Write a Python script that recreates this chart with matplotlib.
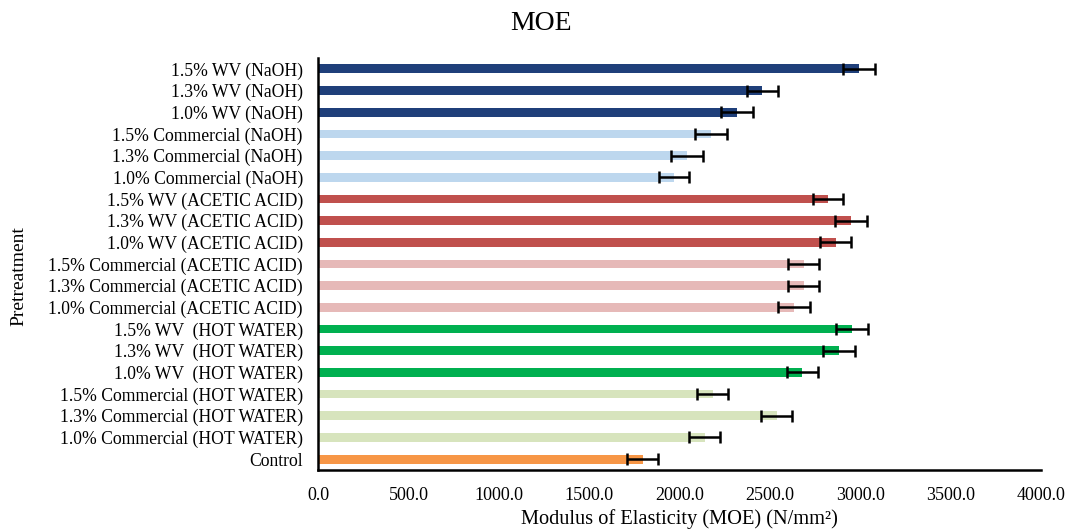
import numpy as np
import matplotlib.pyplot as plt

plt.rcParams["font.family"] = ["Liberation Serif", "DejaVu Serif"]

labels = [
    "1.5% WV (NaOH)",
    "1.3% WV (NaOH)",
    "1.0% WV (NaOH)",
    "1.5% Commercial (NaOH)",
    "1.3% Commercial (NaOH)",
    "1.0% Commercial (NaOH)",
    "1.5% WV (ACETIC ACID)",
    "1.3% WV (ACETIC ACID)",
    "1.0% WV (ACETIC ACID)",
    "1.5% Commercial (ACETIC ACID)",
    "1.3% Commercial (ACETIC ACID)",
    "1.0% Commercial (ACETIC ACID)",
    "1.5% WV  (HOT WATER)",
    "1.3% WV  (HOT WATER)",
    "1.0% WV  (HOT WATER)",
    "1.5% Commercial (HOT WATER)",
    "1.3% Commercial (HOT WATER)",
    "1.0% Commercial (HOT WATER)",
    "Control",
]
moe = [2992, 2457, 2317, 2174, 2041, 1969,
       2822, 2948, 2863, 2686, 2686, 2633,
       2954, 2882, 2679, 2183, 2537, 2140,
       1796]
err = [88, 86, 88, 86, 88, 85,
       85, 88, 87, 85, 87, 88,
       87, 87, 85, 87, 87, 86,
       86]
colors = ["#1F3F7A"] * 3 + ["#BDD7EE"] * 3 + ["#C0504D"] * 3 + ["#E6B9B8"] * 3 \
    + ["#00B050"] * 3 + ["#D7E4BD"] * 3 + ["#F79646"]

fig = plt.figure(figsize=(10.71, 5.32), dpi=100)
ax = fig.add_axes([0.297, 0.1165, 0.675, 0.7745])

y = np.arange(len(labels))
ax.barh(y, moe, height=0.4, color=colors)
ax.errorbar(moe, y, xerr=err, fmt="none", ecolor="black", elinewidth=1.8,
            capsize=4, capthick=1.8)

ax.set_ylim(len(labels) - 0.5, -0.5)
ax.set_xlim(0, 4000)
ax.set_yticks(y)
ax.set_yticklabels(labels, fontsize=12.7)
xt = np.arange(0, 4001, 500)
ax.set_xticks(xt)
ax.set_xticklabels([f"{v:.1f}" for v in xt], fontsize=13)
ax.tick_params(length=0)
ax.tick_params(axis="x", pad=12)
ax.tick_params(axis="y", pad=11)

for s in ["top", "right"]:
    ax.spines[s].set_visible(False)
for s in ["left", "bottom"]:
    ax.spines[s].set_linewidth(1.8)
    ax.spines[s].set_color("black")

ax.set_xlabel("Modulus of Elasticity (MOE) (N/mm²)", fontsize=14.7)
ax.set_ylabel("Pretreatment", fontsize=14)
ax.yaxis.set_label_coords(-0.4025, 0.47)
fig.suptitle("MOE", fontsize=20, x=0.505, y=0.98)

plt.savefig("out.png", dpi=100)
